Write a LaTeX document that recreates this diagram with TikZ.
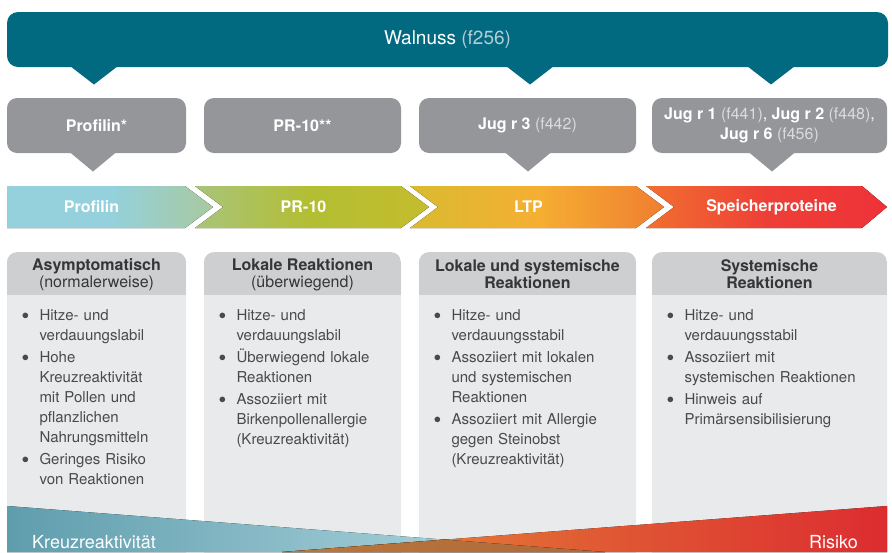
\documentclass[tikz,border=0pt]{standalone}
\usepackage{fontspec}
\setmainfont{TeX Gyre Heros}
\usetikzlibrary{positioning}

\definecolor{walnutblue}{HTML}{016A80}
\definecolor{walnutparen}{HTML}{B5CDD4}
\definecolor{allergray}{HTML}{949699}
\definecolor{allerparen}{HTML}{DADBDC}
\definecolor{headgray}{HTML}{CECFD0}
\definecolor{bodygray}{HTML}{E9EAEB}
\definecolor{headtext}{HTML}{363636}
\definecolor{listtext}{HTML}{4A4A4A}
\definecolor{bandblue}{HTML}{94D1DC}
\definecolor{bandbluegreen}{HTML}{A8C9A0}
\definecolor{bandgreenl}{HTML}{A9C47A}
\definecolor{bandgreen}{HTML}{B3BE32}
\definecolor{bandgreenr}{HTML}{C5BD2E}
\definecolor{bandyellow}{HTML}{D9BA30}
\definecolor{bandorange}{HTML}{F5AF32}
\definecolor{bandorangedk}{HTML}{F07E30}
\definecolor{bandredl}{HTML}{F0702F}
\definecolor{bandred}{HTML}{EE3F37}
\definecolor{bandredr}{HTML}{EE3238}
\definecolor{crossleft}{HTML}{5F9DAD}
\definecolor{crossmid}{HTML}{8EBFCA}
\definecolor{crossright}{HTML}{B8DDE5}
\definecolor{riskleft}{HTML}{E8963F}
\definecolor{riskmid}{HTML}{E05C34}
\definecolor{riskright}{HTML}{DC2C30}
\definecolor{mixleft}{HTML}{B8783C}
\definecolor{mixright}{HTML}{B0683A}

\tikzstyle{banner} = [rectangle, rounded corners=11pt, minimum width=881pt, minimum height=55pt, inner sep=0pt, fill=walnutblue, text=white, font=\fontsize{19}{22}\selectfont]
\tikzstyle{allergen} = [rectangle, rounded corners=10pt, minimum height=55pt, inner sep=0pt, fill=allergray, text=white, align=center, font=\fontsize{16}{20}\selectfont]
\tikzstyle{bandtext} = [inner sep=0pt, text=white, font=\bfseries\fontsize{16}{18}\selectfont]
\tikzstyle{colbody} = [rectangle, rounded corners=10pt, minimum height=313pt, anchor=north, inner sep=0pt, fill=bodygray, path picture={\fill[headgray, sharp corners] (path picture bounding box.north west) rectangle ([yshift=-43pt]path picture bounding box.north east);}]
\tikzstyle{colhead} = [inner sep=0pt, text=headtext, align=center, font=\fontsize{16}{17}\selectfont]
\tikzstyle{bullets} = [anchor=north west, inner sep=0pt, text=listtext, font=\fontsize{15}{20}\selectfont]
\tikzstyle{cornerlabel} = [inner sep=0pt, text=white, font=\fontsize{18}{20}\selectfont]

\newcommand{\allerpar}[1]{{\color{allerparen}#1}}
\newcommand{\bsetup}{\raggedright\setlength{\leftskip}{14.5pt}\setlength{\parskip}{2pt}\setlength{\parindent}{0pt}}
\newcommand{\bpoint}[1]{\par\noindent\llap{\raisebox{1pt}{$\bullet$}\hspace{10.5pt}}#1\par}

\begin{document}
\begin{tikzpicture}[x=1pt, y=-1pt]
\useasboundingbox (0,0) rectangle (892,552);

% food
\node (walnut)[banner] at (447.5,39.5) {Walnuss {\color{walnutparen}(f256)}};
\fill[walnutblue] (70,66) -- (118,66) -- (94,84.5) -- cycle;
\fill[walnutblue] (506,66) -- (554,66) -- (530,84.5) -- cycle;
\fill[walnutblue] (747,66) -- (795,66) -- (771,84.5) -- cycle;

% allergen components
\node (profilinBox)[allergen, minimum width=179pt] at (96.5,125.5) {\textbf{Profilin*}};
\node (prtenBox)[allergen, minimum width=197pt] at (302.5,125.5) {\textbf{PR-10**}};
\node (jugiiiBox)[allergen, minimum width=217pt] at (527.5,125.5) {\textbf{Jug r 3} \allerpar{(f442)}};
\node (storageBox)[allergen, minimum width=235pt] at (769.5,125.5) {\textbf{Jug r 1} \allerpar{(f441)}, \textbf{Jug r 2} \allerpar{(f448)},\\\textbf{Jug r 6} \allerpar{(f456)}};
\fill[allergray] (69.5,152) -- (116.5,152) -- (93,171.5) -- cycle;
\fill[allergray] (504.5,152) -- (551.5,152) -- (528,171.5) -- cycle;
\fill[allergray] (748.5,152) -- (795.5,152) -- (772,171.5) -- cycle;

% protein families
\fill[left color=bandblue, right color=bandbluegreen, middle color=bandblue] (7,186) -- (185,186) -- (213,207) -- (185,228) -- (7,228) -- cycle;
\fill[left color=bandgreenl, right color=bandgreenr, middle color=bandgreen] (195,186) -- (401,186) -- (429,207) -- (401,228) -- (195,228) -- (223,207) -- cycle;
\fill[left color=bandyellow, right color=bandorangedk, middle color=bandorange] (410,186) -- (636,186) -- (664,207) -- (636,228) -- (410,228) -- (438,207) -- cycle;
\fill[left color=bandredl, right color=bandredr, middle color=bandred] (646,186) -- (862,186) -- (887,207) -- (862,228) -- (646,228) -- (674,207) -- cycle;
\node (profilinBand)[bandtext] at (91.5,207) {Profilin};
\node (prtenBand)[bandtext] at (303.5,207) {PR-10};
\node (ltpBand)[bandtext] at (528.5,207) {LTP};
\node (storageBand)[bandtext] at (771.5,207) {Speicherproteine};

% reactions
\node (asymBody)[colbody, minimum width=179pt] at (96.5,252) {};
\node (asymHead)[colhead] at ([yshift=-22.5pt]asymBody.north) {\textbf{Asymptomatisch}\\(normalerweise)};
\node (asymList)[bullets, text width=155pt] at ([xshift=18pt, yshift=-46pt]asymBody.north west) {\bsetup
\bpoint{Hitze- und\\verdauungslabil}
\bpoint{Hohe\\Kreuzreaktivität\\mit Pollen und\\pflanzlichen\\Nahrungsmitteln}
\bpoint{Geringes Risiko\\von Reaktionen}};

\node (localBody)[colbody, minimum width=197pt] at (302.5,252) {};
\node (localHead)[colhead] at ([yshift=-22.5pt]localBody.north) {\textbf{Lokale Reaktionen}\\(überwiegend)};
\node (localList)[bullets, text width=173pt] at ([xshift=18pt, yshift=-46pt]localBody.north west) {\bsetup
\bpoint{Hitze- und\\verdauungslabil}
\bpoint{Überwiegend lokale\\Reaktionen}
\bpoint{Assoziiert mit\\Birkenpollenallergie\\(Kreuzreaktivität)}};

\node (mixedBody)[colbody, minimum width=217pt] at (527.5,252) {};
\node (mixedHead)[colhead] at ([yshift=-22.5pt]mixedBody.north) {\textbf{Lokale und systemische}\\\textbf{Reaktionen}};
\node (mixedList)[bullets, text width=193pt] at ([xshift=18pt, yshift=-46pt]mixedBody.north west) {\bsetup
\bpoint{Hitze- und\\verdauungsstabil}
\bpoint{Assoziiert mit lokalen\\und systemischen\\Reaktionen}
\bpoint{Assoziiert mit Allergie\\gegen Steinobst\\(Kreuzreaktivität)}};

\node (systBody)[colbody, minimum width=235pt] at (769.5,252) {};
\node (systHead)[colhead] at ([yshift=-22.5pt]systBody.north) {\textbf{Systemische}\\\textbf{Reaktionen}};
\node (systList)[bullets, text width=211pt] at ([xshift=18pt, yshift=-46pt]systBody.north west) {\bsetup
\bpoint{Hitze- und\\verdauungsstabil}
\bpoint{Assoziiert mit\\systemischen Reaktionen}
\bpoint{Hinweis auf\\Primärsensibilisierung}};

% cross-reactivity vs. risk
\fill[left color=crossleft, right color=crossright, middle color=crossmid] (7,506) -- (605,552) -- (7,552) -- cycle;
\fill[left color=riskleft, right color=riskright, middle color=riskmid] (887,506) -- (887,552) -- (282,552) -- cycle;
\fill[left color=mixleft, right color=mixright] (282,552) -- (444.4,539.6) -- (605,552) -- cycle;
\node (crossLabel)[cornerlabel, anchor=base west] at (32,548) {Kreuzreaktivität};
\node (riskLabel)[cornerlabel, anchor=base east] at (858,548) {Risiko};
\end{tikzpicture}
\end{document}
